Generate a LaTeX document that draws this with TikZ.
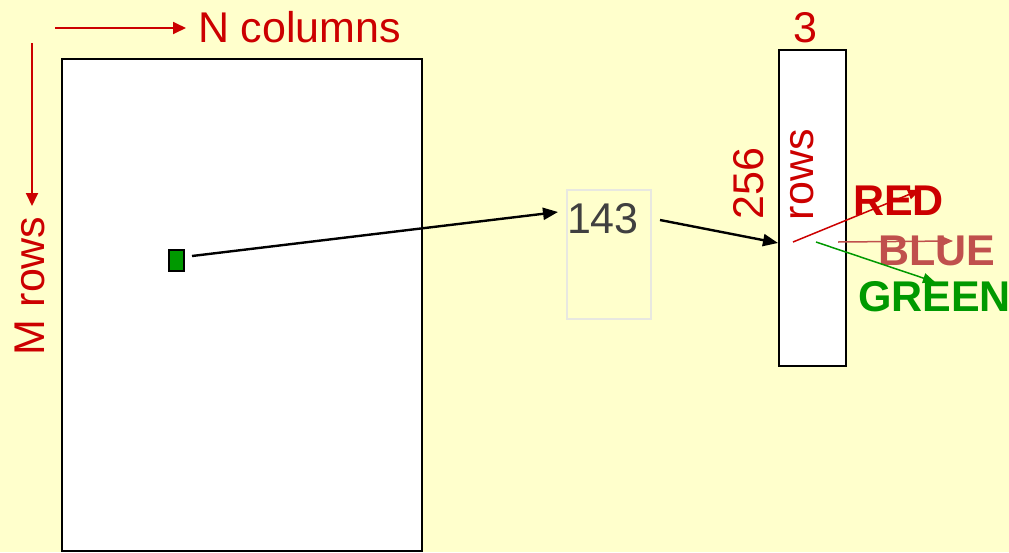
\documentclass[tikz,border=0pt]{standalone}
\usepackage{fontspec}
\setmainfont{Liberation Sans}
\usetikzlibrary{arrows.meta}
\definecolor{bg}{HTML}{FFFFCC}
\definecolor{lblred}{HTML}{CC0000}
\definecolor{lblrose}{HTML}{C0504D}
\definecolor{lblgreen}{HTML}{009900}
\definecolor{numgray}{HTML}{404040}
\definecolor{faint}{HTML}{E8E8E0}
\begin{document}
\begin{tikzpicture}[x=1pt,y=-1pt,
  lbl/.style={font=\fontsize{43}{50}\selectfont, inner sep=0pt, outer sep=0pt},
  boldlbl/.style={font=\fontsize{43}{50}\selectfont\bfseries, inner sep=0pt, outer sep=0pt},
  box/.style={draw=black, fill=white, line width=1.8pt, inner sep=0pt},
  guide/.style={draw=lblred, line width=1.8pt, -{Triangle[length=13pt,width=12pt]}},
  link/.style={draw=black, line width=2.4pt, -{Triangle[length=15pt,width=12pt]}},
  chan/.style={line width=1.5pt, -{Triangle[length=12pt,width=10pt]}}]
  % page
  \fill[bg] (0,0) rectangle (1009,552);
  \useasboundingbox (0,0) rectangle (1009,552);

  % image matrix and one pixel
  \node[box, minimum width=360pt, minimum height=492pt] (mat) at (242,305) {};
  \node[draw=black, fill=lblgreen, line width=2pt, minimum width=15pt, minimum height=21pt, inner sep=0pt] (pix) at (176,260) {};

  % axis labels
  \coordinate (ncolA) at (55,28);
  \coordinate (ncolB) at (186,28);
  \draw[guide] (ncolA) -- (ncolB);
  \node[lbl, text=lblred, anchor=base west] (ncol) at (198,42) {N columns};
  \coordinate (mrowA) at (32,43);
  \coordinate (mrowB) at (32,206);
  \draw[guide] (mrowA) -- (mrowB);
  \node[lbl, text=lblred, anchor=base west, rotate=90] (mrow) at (44,355) {M rows};

  % pixel value
  \node[draw=faint, line width=1.5pt, minimum width=84pt, minimum height=129pt, inner sep=0pt] (valbox) at (609,254.5) {};
  \node[lbl, text=numgray, anchor=base west] (num) at (567,233) {143};

  % colour map table
  \node[box, minimum width=67pt, minimum height=316pt] (cmap) at (812.5,208) {};
  \node[lbl, text=lblred, anchor=base] (three) at (805,42) {3};
  \node[lbl, text=lblred, anchor=base west, rotate=90] (n256) at (763,219) {256};
  \node[lbl, text=lblred, anchor=base west, rotate=90] (rowsl) at (813,220) {rows};

  % connectors
  \coordinate (pixout) at (192,256);
  \coordinate (numin) at (558,212);
  \coordinate (numout) at (660,220);
  \coordinate (cmapin) at (778,243);
  \draw[link] (pixout) -- (numin);
  \draw[link] (numout) -- (cmapin);

  % channel labels
  \node[boldlbl, text=lblred, anchor=base west] (red) at (853,215) {RED};
  \node[boldlbl, text=lblrose, anchor=base west] (blue) at (878,265) {BLUE};
  \node[boldlbl, text=lblgreen, anchor=base west] (green) at (858,311) {GREEN};

  % channel pointers
  \coordinate (rA) at (793,242);
  \coordinate (rB) at (920,190);
  \coordinate (bA) at (838,242);
  \coordinate (bB) at (953,241);
  \coordinate (gA) at (816,242);
  \coordinate (gB) at (935,282);
  \draw[chan, draw=lblred, fill=lblred] (rA) -- (rB);
  \draw[chan, draw=lblrose, fill=lblrose] (bA) -- (bB);
  \draw[chan, draw=lblgreen, fill=lblgreen] (gA) -- (gB);
\end{tikzpicture}
\end{document}
